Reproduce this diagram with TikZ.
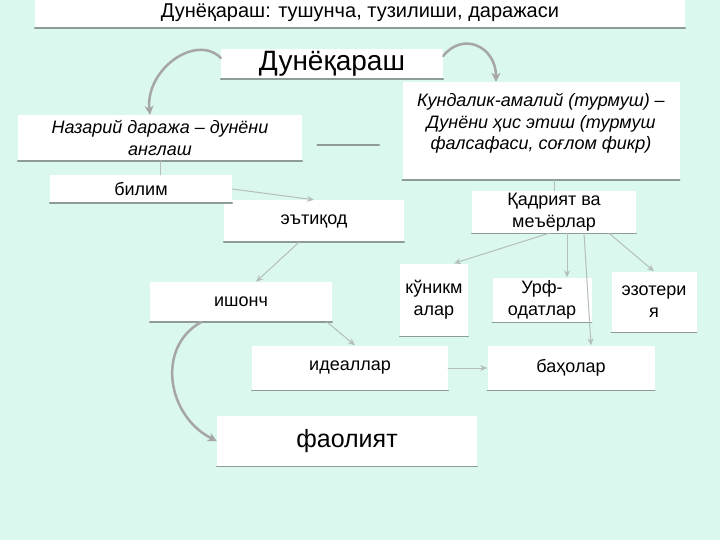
\documentclass[tikz,border=0pt]{standalone}
\usepackage{fontspec}
\setmainfont{Liberation Sans}
\usetikzlibrary{arrows.meta}
\definecolor{mint}{HTML}{DAF8EE}
\definecolor{rim}{HTML}{8E9C98}
\definecolor{wire}{HTML}{B4BEBA}
\tikzset{
  box/.style={fill=white, inner sep=2pt, align=center},
  wirearrow/.style={draw=wire, line width=1pt, -{Stealth[length=7pt,width=6pt]}},
  curl/.style={draw=gray!70, line width=2.5pt, -{Stealth[length=9pt,width=9pt]}},
  txt/.style={font=\fontsize{18}{22}\selectfont},
  slant/.style={font=\fontsize{18}{21.5}\selectfont\itshape}
}
\begin{document}
\begin{tikzpicture}[x=1pt,y=-1pt,line join=round,line cap=round,>=Stealth]
\fill[mint] (0,0) rectangle (720,540);
\useasboundingbox (0,0) rectangle (720,540);
% boxes
\node[box, minimum width=650, minimum height=30, font=\fontsize{20}{22}\selectfont] (title) at (360,13) {Дунёқараш: тушунча, тузилиши, даражаси};
\node[box, minimum width=222, minimum height=30, font=\fontsize{28}{30}\selectfont] (dunyo) at (332,64) {Дунёқараш};
\node[box, slant, minimum width=284, minimum height=46] (nazariy) at (160,138) {Назарий даража – дунёни\\ англаш};
\node[box, minimum width=277, minimum height=98] (kundalik) at (541,131) {};
\node[slant, align=center, anchor=north] (kundalikT) at ([yshift=-8pt]kundalik.north) {Кундалик-амалий (турмуш) –\\ Дунёни ҳис этиш (турмуш\\ фалсафаси, соғлом фикр)};
\node[box, txt, minimum width=182, minimum height=28] (bilim) at (141,189) {билим};
\node[box, txt, minimum width=180, minimum height=42] (etiqod) at (314,221) {эътиқод};
\node[box, txt, minimum width=164, minimum height=40] (qadriyat) at (554,212) {Қадрият ва\\ меъёрлар};
\node[box, txt, minimum width=182, minimum height=40] (ishonch) at (241,302) {ишонч};
\node[box, txt, minimum width=68, minimum height=73] (kunikma) at (434,300) {кўникм\\ алар};
\node[box, txt, minimum width=99, minimum height=45] (urf) at (542,300) {Урф-\\ одатлар};
\node[box, txt, minimum width=85, minimum height=61] (ezoteriya) at (654,302) {эзотери\\ я};
\node[box, txt, minimum width=196, minimum height=45] (ideal) at (350,368) {идеаллар};
\node[box, txt, minimum width=167, minimum height=45] (baho) at (571,368) {баҳолар};
\node[box, minimum width=260, minimum height=51, font=\fontsize{25}{28}\selectfont] (faoliyat) at (347,441) {фаолият};
\foreach \n in {title,dunyo,nazariy,kundalik,bilim,etiqod,qadriyat,ishonch,kunikma,urf,ezoteriya,ideal,baho,faoliyat}
  \draw[rim, line width=1.5pt] (\n.south west) -- (\n.south east);
% curved arrows
\draw[curl] ([yshift=6pt]dunyo.west) .. controls +(-25,-25) and +(-5,-45) .. ([xshift=-10pt]nazariy.north);
\draw[curl] ([yshift=8pt]dunyo.east) .. controls +(20,-25) and +(0,-35) .. ([xshift=-45pt]kundalik.north);
\draw[curl] ([xshift=-40pt]ishonch.south) .. controls +(-45,25) and +(-50,-25) .. (faoliyat.west);
% links
\draw[rim, line width=1.5pt] ([xshift=15pt,yshift=-7pt]nazariy.east) -- ([xshift=-23pt,yshift=-7pt]kundalik.west |- nazariy.east);
\draw[draw=wire, line width=1pt] (nazariy.south) -- (nazariy.south |- bilim.north);
\draw[draw=wire, line width=1pt] (qadriyat.north |- kundalik.south) -- (qadriyat.north);
\draw[wirearrow] (bilim.east) -- (etiqod.north);
\draw[wirearrow] ([xshift=-15pt]etiqod.south) -- ([xshift=15pt]ishonch.north);
\draw[wirearrow] ([xshift=-5pt]qadriyat.south) -- ([xshift=20pt]kunikma.north);
\draw[wirearrow] ([xshift=13pt]qadriyat.south) -- ([xshift=25pt]urf.north);
\draw[wirearrow] ([xshift=30pt]qadriyat.south) -- ([xshift=20pt]baho.north);
\draw[wirearrow] ([xshift=55pt]qadriyat.south) -- (ezoteriya.north);
\draw[wirearrow] ([xshift=-5pt]ishonch.south east) -- ([xshift=5pt]ideal.north);
\draw[wirearrow] (ideal.east) -- (baho.west);
\end{tikzpicture}
\end{document}
